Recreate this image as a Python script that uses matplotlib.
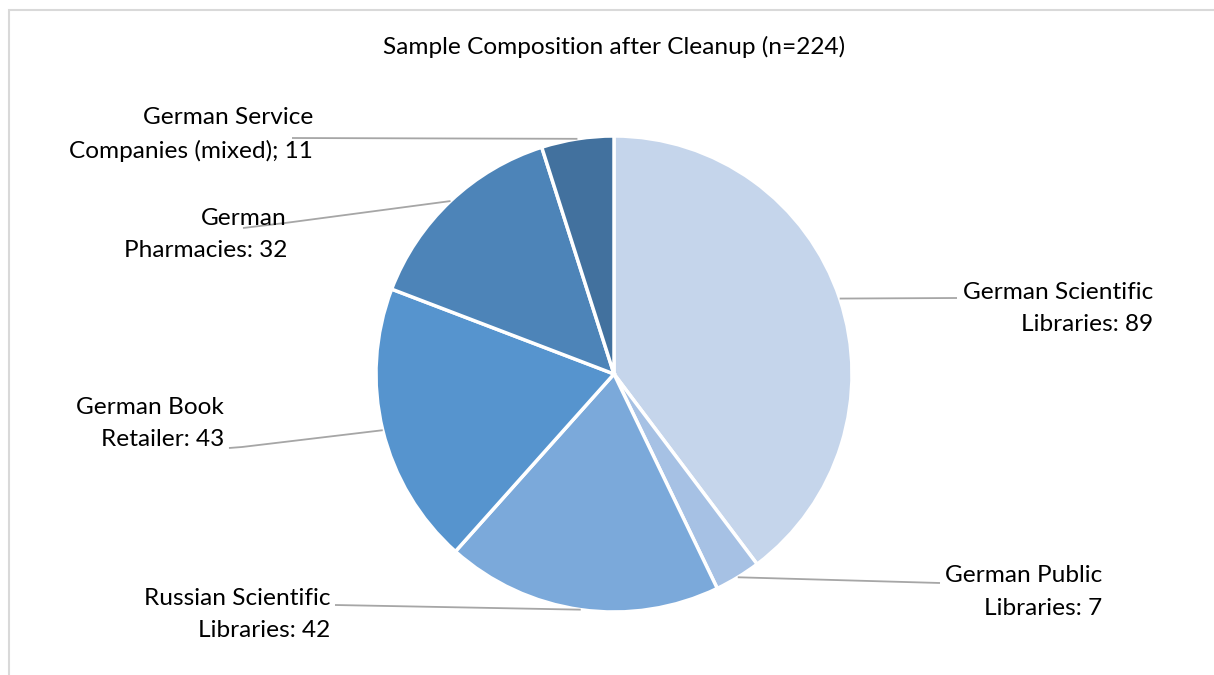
import matplotlib
matplotlib.use("Agg")
import matplotlib.pyplot as plt
import numpy as np
from matplotlib.patches import Rectangle

categories = ["German Scientific\nLibraries", "German Public\nLibraries", "Russian Scientific\nLibraries",
              "German Book\nRetailer", "German\nPharmacies", "German Service\nCompanies (mixed)"]
values = [89, 7, 42, 43, 32, 11]
separators = [": ", ": ", ": ", ": ", ": ", "; "]
colors = ["#C5D5EB", "#A6C1E4", "#7BA9DA", "#5694CE", "#4D84B8", "#42719E"]
title = "Sample Composition after Cleanup (n=224)"

W, H = 1214, 675
fig = plt.figure(figsize=(W / 100, H / 100), dpi=100)
ax = fig.add_axes([0, 0, 1, 1])

FONT = "Lato"
FS = 17.6

# frame
fig.patches.append(Rectangle((9 / W, -0.1), 1.2, (H - 10) / H + 0.1, transform=fig.transFigure,
                             fill=False, edgecolor="#D9D9D9", linewidth=1.5))

cx, cy, r = 614, H - 374, 238
wedges, _ = ax.pie(values, colors=colors, startangle=90, counterclock=False,
                   center=(cx, cy), radius=r, frame=True,
                   wedgeprops=dict(edgecolor="white", linewidth=2.5))
ax.set_xlim(0, W)
ax.set_ylim(0, H)
ax.set_aspect("equal")
ax.axis("off")

ax.text(614, H - 47, title, ha="center", va="center", fontsize=FS, family=FONT, color="#000000")

# label layout: (text right x, text center y, leader points after the wedge edge point)
layout = [
    (1153, 308.5, [(957, 298)]),
    (1102, 592, [(940, 583)]),
    (330, 614.5, [(335, 605)]),
    (224, 423.5, [(242, 447), (229, 448)]),
    (287, 234.5, [(285, 223), (243, 228)]),
    (313, 134.5, [(292, 138)]),
]

for w, cat, val, sep, (tx, ty, pts) in zip(wedges, categories, values, separators, layout):
    ang = np.deg2rad((w.theta1 + w.theta2) / 2)
    ex, ey = cx + r * np.cos(ang), cy + r * np.sin(ang)
    xs = [ex] + [p[0] for p in pts]
    ys = [ey] + [H - p[1] for p in pts]
    ax.plot(xs, ys, color="#A6A6A6", linewidth=1.3, solid_capstyle="butt")
    ax.text(tx, H - ty, f"{cat}{sep}{val}", ha="right", va="center", multialignment="right",
            fontsize=FS, family=FONT, linespacing=1.7, color="#000000")

fig.savefig("out.png", dpi=100, facecolor="white")
